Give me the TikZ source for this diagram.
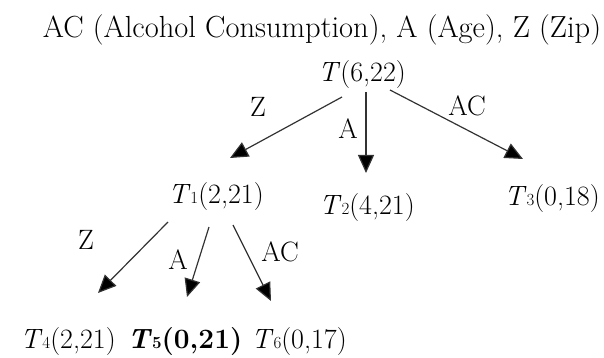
\documentclass[tikz,border=0pt]{standalone}
\usetikzlibrary{arrows.meta,calc}
\newcommand{\tsub}[1]{{\fontsize{17}{17}\selectfont #1}}
\begin{document}
\begin{tikzpicture}[x=1pt,y=-1pt,
  lbl/.style={inner sep=0pt,font=\fontsize{28}{32}\selectfont},
  tnode/.style={inner sep=0pt,anchor=base,font=\fontsize{28}{32}\selectfont},
  arr/.style={draw=black!80,line width=1.2pt,-{Triangle[length=18pt,width=16pt,fill=black]}}]
\useasboundingbox (0,0) rectangle (604,358);
\node[tnode,font=\fontsize{30.5}{34}\selectfont] (title) at (322,38) {AC (Alcohol Consumption), A (Age), Z (Zip)};
\node[tnode] (T) at (362,82) {\textit{T}(6,22)};
\node[tnode] (T1) at (216,203) {\textit{T}\tsub{1}(2,21)};
\node[tnode] (T2) at (367,214) {\textit{T}\tsub{2}(4,21)};
\node[tnode] (T3) at (552,205) {\textit{T}\tsub{3}(0,18)};
\node[tnode] (T4) at (68,348) {\textit{T}\tsub{4}(2,21)};
\node[tnode] (T5) at (185,348) {\textbf{\textit{T}\tsub{5}(0,21)}};
\node[tnode] (T6) at (299,348) {\textit{T}\tsub{6}(0,17)};
\node[lbl] (lz1) at (258,107) {Z};
\node[lbl] (la1) at (348,129) {A};
\node[lbl] (lac1) at (467,106) {AC};
\node[lbl] (lz2) at (86,240) {Z};
\node[lbl] (la2) at (178,260) {A};
\node[lbl] (lac2) at (280,252) {AC};
\draw[arr] ($(T.base)+(-20,15)$) -- ($(T1.base)+(14,-45)$);
\draw[arr] ($(T.base)+(4,10)$) -- ($(T2.base)+(-1,-41)$);
\draw[arr] ($(T.base)+(28,8)$) -- ($(T3.base)+(-29,-46)$);
\draw[arr] ($(T1.base)+(-48,19)$) -- ($(T4.base)+(30,-55)$);
\draw[arr] ($(T1.base)+(-7,24)$) -- ($(T5.base)+(2,-51)$);
\draw[arr] ($(T1.base)+(17,22)$) -- ($(T6.base)+(-28,-47)$);
\end{tikzpicture}
\end{document}
